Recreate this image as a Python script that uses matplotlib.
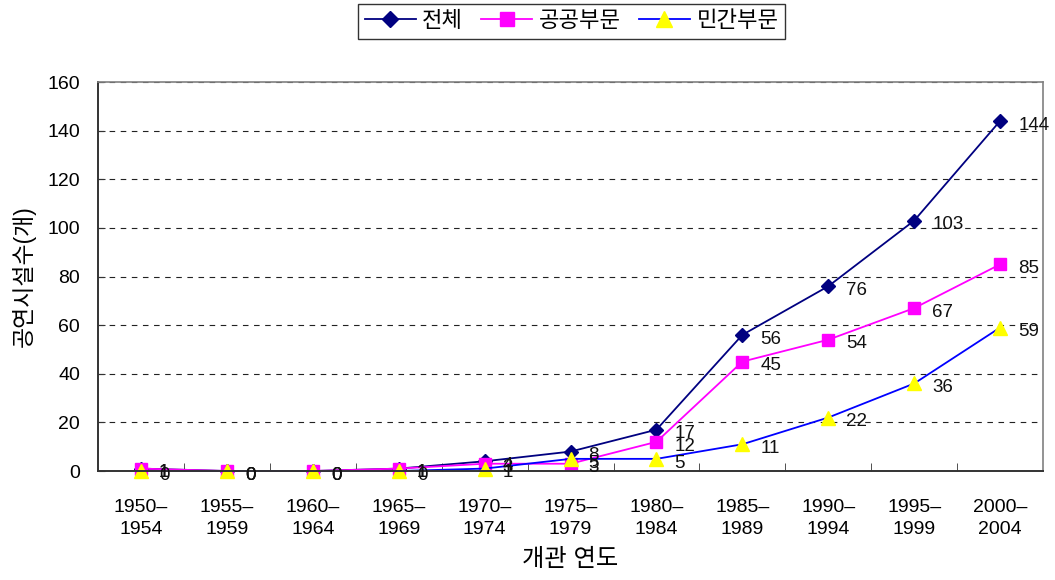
"""
공연시설 개관 연도별 추이 (전체 / 공공부문 / 민간부문)
"""
import matplotlib
matplotlib.use('Agg')
import matplotlib.pyplot as plt
import numpy as np

plt.rcParams['font.family'] = ['Liberation Sans', 'Noto Sans CJK KR']

# data
PERIODS = ['1950–\n1954', '1955–\n1959', '1960–\n1964', '1965–\n1969', '1970–\n1974',
           '1975–\n1979', '1980–\n1984', '1985–\n1989', '1990–\n1994', '1995–\n1999',
           '2000–\n2004']
TOTAL   = [1, 0, 0, 1, 4, 8, 17, 56, 76, 103, 144]
PUBLIC  = [1, 0, 0, 1, 3, 3, 12, 45, 54, 67, 85]
PRIVATE = [0, 0, 0, 0, 1, 5, 5, 11, 22, 36, 59]

# figure settings
SERIES = [
    ('전체', TOTAL, '#000080', 'D', '#000080', 7),
    ('공공부문', PUBLIC, '#FF00FF', 's', '#FF00FF', 9),
    ('민간부문', PRIVATE, '#0000FF', '^', '#FFFF00', 10),
]

fig = plt.figure(figsize=(10.55, 5.8), dpi=100, facecolor='w')
ax = fig.add_axes([0.0929, 0.1879, 0.8958, 0.6707])

x = np.arange(len(PERIODS))
for name, vals, color, marker, mcolor, msize in SERIES:
    ax.plot(x, vals, color=color, linewidth=1.3, marker=marker, markersize=msize,
            markerfacecolor=mcolor, markeredgecolor=mcolor, label=name, clip_on=False)
    for xi, v in zip(x, vals):
        ax.annotate(str(v), (xi, v), xytext=(13, -3), textcoords='offset points',
                    ha='left', va='center', fontsize=13.5, color='#111111')

# axes
ax.set_xlim(-0.5, len(PERIODS) - 0.5)
ax.set_ylim(0, 160)
ax.set_yticks(np.arange(0, 161, 20))
ax.set_xticks(x)
ax.set_xticklabels(PERIODS, fontsize=14, linespacing=1.4)
ax.set_xticks(np.arange(0.5, len(PERIODS) - 0.5, 1), minor=True)
ax.tick_params(axis='x', which='major', length=0, pad=20)
ax.tick_params(axis='x', which='minor', direction='in', length=6, color='#333333')
ax.tick_params(axis='y', direction='in', length=5, labelsize=14, color='#333333', pad=13)
ax.grid(axis='y', linestyle=(0, (5, 5)), color='#222222', linewidth=0.8)
for side in ['top', 'right']:
    ax.spines[side].set_color('#808080')
    ax.spines[side].set_linewidth(1.2)
for side in ['left', 'bottom']:
    ax.spines[side].set_color('#333333')
    ax.spines[side].set_linewidth(1.4)

ax.set_ylabel('공연시설수(개)', fontsize=16.5, labelpad=8)
ax.set_xlabel('개관 연도', fontsize=17.5, labelpad=8)

leg = ax.legend(loc='upper center', bbox_to_anchor=(0.501, 1.228), ncol=3, fontsize=16,
                frameon=True, fancybox=False, edgecolor='black', handlelength=2.3,
                columnspacing=0.8, handletextpad=0.3, borderpad=0.3, markerscale=1.1)
leg.get_frame().set_linewidth(1.0)

fig.savefig('out.png', dpi=100, facecolor='w')
plt.close(fig)
